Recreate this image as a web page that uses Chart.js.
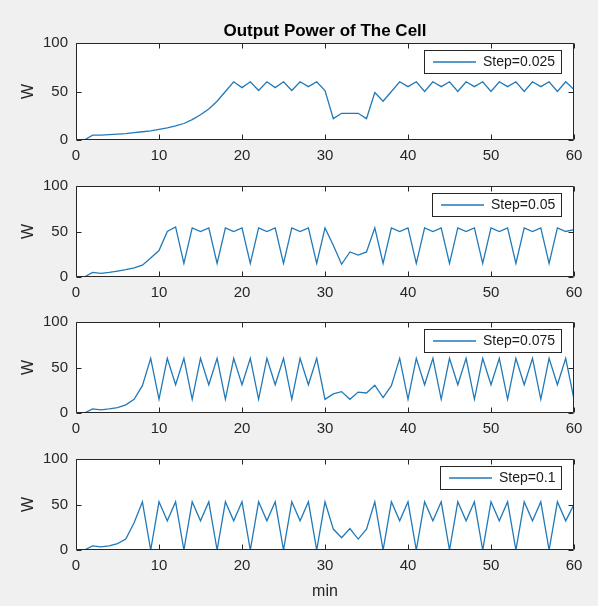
<!DOCTYPE html>
<html>
<head>
<meta charset="utf-8">
<title>Output Power of The Cell</title>
<script src="https://cdn.jsdelivr.net/npm/chart.js@4.4.0/dist/chart.umd.min.js"></script>
<style>
  html, body { margin: 0; padding: 0; background: #f0f0f0; }
  body { width: 598px; height: 606px; position: relative; overflow: hidden; }
  canvas { position: absolute; left: 0; }
</style>
</head>
<body>
<canvas id="c1" width="598" height="170" style="top:0px"></canvas>
<canvas id="c2" width="598" height="138" style="top:169px"></canvas>
<canvas id="c3" width="598" height="138" style="top:305px"></canvas>
<canvas id="c4" width="598" height="164" style="top:442px"></canvas>
<script>
// time axis (min)
const minutes = [1, 2, 3, 4, 5, 6, 7, 8, 9, 10, 11, 12, 13, 14, 15, 16, 17, 18, 19, 20,
  21, 22, 23, 24, 25, 26, 27, 28, 29, 30, 31, 32, 33, 34, 35, 36, 37, 38, 39, 40,
  41, 42, 43, 44, 45, 46, 47, 48, 49, 50, 51, 52, 53, 54, 55, 56, 57, 58, 59, 60];

// output power (W) for each step size
const step025 = [0, 5, 5, 5.5, 6, 6.5, 7.5, 8.5, 9.5, 11, 12.5, 14.5, 17, 21, 26, 32, 40, 50, 60, 54,
  60, 51, 60, 54, 60, 51, 60, 55, 60, 51, 22, 27.5, 27.5, 27.5, 22, 49, 40, 50, 60, 55,
  60, 50, 60, 55, 60, 50, 60, 55, 60, 50, 60, 55, 60, 50, 60, 55, 60, 50, 60, 52];
const step050 = [0, 5, 4, 5, 6.5, 8, 10, 13, 21, 29, 50, 55, 15, 54, 50, 54, 15, 54, 50, 54,
  15, 54, 50, 54, 15, 54, 50, 54, 15, 54, 35, 14, 27.5, 24, 27.5, 54, 15, 54, 50, 54,
  15, 54, 50, 54, 15, 54, 50, 54, 15, 54, 50, 54, 15, 54, 50, 54, 15, 54, 50, 52];
const step075 = [0, 4.5, 3.5, 4.5, 6, 9, 15, 30, 60, 15, 60, 31, 60, 15, 60, 31, 60, 15, 60, 31,
  60, 15, 60, 31, 60, 15, 60, 31, 60, 15, 21, 23.5, 15, 23, 22, 30.5, 17, 30, 60, 15,
  60, 31, 60, 15, 60, 31, 60, 15, 60, 31, 60, 15, 60, 31, 60, 15, 60, 31, 60, 15];
const step100 = [0, 4.5, 3.5, 4.5, 7, 12, 30, 53, 0, 53, 32, 53, 0, 53, 32, 53, 0, 53, 32, 53,
  0, 53, 32, 53, 0, 53, 32, 53, 0, 53, 23, 13.5, 23.5, 12, 23, 53, 0, 53, 32, 53,
  0, 53, 32, 53, 0, 53, 32, 53, 0, 53, 32, 53, 0, 53, 32, 53, 0, 53, 32, 50];

const stepLabels = ['Step=0.025', 'Step=0.05', 'Step=0.075', 'Step=0.1'];
const xTicks = [0, 10, 20, 30, 40, 50, 60];
const yTicks = [0, 50, 100];

const FONT = "'Liberation Sans', Arial, sans-serif";
const lineColor = '#2279b8';
const axisColor = '#262626';

// white plot box, frame and inward tick marks like the original figure
const framePlugin = {
  id: 'frame',
  beforeDraw(chart) {
    const { ctx, chartArea: a } = chart;
    ctx.save();
    ctx.fillStyle = '#ffffff';
    ctx.fillRect(a.left, a.top, a.right - a.left, a.bottom - a.top);
    ctx.restore();
  },
  afterDraw(chart) {
    const { ctx, chartArea: a, scales } = chart;
    const L = Math.round(a.left) + 0.5, R = Math.round(a.right) - 0.5;
    const T = Math.round(a.top) + 0.5, B = Math.round(a.bottom) - 0.5;
    const tl = 5;
    ctx.save();
    ctx.strokeStyle = axisColor;
    ctx.lineWidth = 1;
    ctx.beginPath();
    ctx.rect(L, T, R - L, B - T);
    xTicks.forEach(v => {
      const px = Math.round(scales.x.getPixelForValue(v)) + 0.5;
      ctx.moveTo(px, B); ctx.lineTo(px, B - tl);
      ctx.moveTo(px, T); ctx.lineTo(px, T + tl);
    });
    yTicks.forEach(v => {
      const py = Math.round(scales.y.getPixelForValue(v)) + 0.5;
      ctx.moveTo(L, py); ctx.lineTo(L + tl, py);
      ctx.moveTo(R, py); ctx.lineTo(R - tl, py);
    });
    ctx.stroke();
    ctx.restore();
  }
};

// boxed legend in the upper right corner of the plot
const legendBox = {
  id: 'legendBox',
  afterDraw(chart) {
    const { ctx, chartArea: a } = chart;
    const ds = chart.data.datasets[0];
    ctx.save();
    ctx.font = '14px ' + FONT;
    const tw = ctx.measureText(ds.label).width;
    const w = 9 + 43 + 7 + tw + 6, h = 23;
    const right = Math.round(a.right) - 13;
    const left = Math.round(right - w);
    const top = Math.round(a.top) + 7;
    ctx.fillStyle = '#ffffff';
    ctx.fillRect(left, top, w, h);
    ctx.strokeStyle = axisColor;
    ctx.lineWidth = 1;
    ctx.strokeRect(left + 0.5, top + 0.5, Math.round(w), h);
    const cy = top + h / 2 + 0.5;
    ctx.strokeStyle = ds.borderColor;
    ctx.lineWidth = 1.3;
    ctx.beginPath();
    ctx.moveTo(left + 9, cy);
    ctx.lineTo(left + 52, cy);
    ctx.stroke();
    ctx.fillStyle = '#1a1a1a';
    ctx.textBaseline = 'middle';
    ctx.textAlign = 'left';
    ctx.fillText(ds.label, left + 59, cy);
    ctx.restore();
  }
};

function makePanel(id, values, label, o) {
  return new Chart(document.getElementById(id), {
    type: 'line',
    data: {
      datasets: [{
        label: label,
        data: minutes.map((m, i) => ({ x: m, y: values[i] })),
        borderColor: lineColor,
        borderWidth: 1.3,
        pointRadius: 0,
        tension: 0,
        fill: false
      }]
    },
    options: {
      responsive: false,
      animation: false,
      layout: { padding: { top: o.padTop, right: 24, left: 0, bottom: 0 } },
      plugins: {
        legend: { display: false },
        tooltip: { enabled: false },
        title: o.title || { display: false }
      },
      scales: {
        x: {
          type: 'linear', min: 0, max: 60,
          grid: { display: false, drawTicks: false },
          border: { display: false },
          ticks: { color: axisColor, font: { size: 15, family: FONT }, padding: 7, maxRotation: 0, autoSkip: false },
          afterBuildTicks: s => { s.ticks = xTicks.map(v => ({ value: v })); },
          afterFit: s => { s.height = o.xHeight; },
          title: o.xTitle || { display: false }
        },
        y: {
          min: 0, max: 100,
          grid: { display: false, drawTicks: false },
          border: { display: false },
          ticks: { color: axisColor, font: { size: 15, family: FONT }, padding: 8 },
          afterBuildTicks: s => { s.ticks = yTicks.map(v => ({ value: v })); },
          afterFit: s => { s.width = 76; },
          title: { display: true, text: 'W', color: axisColor, font: { size: 16, family: FONT, lineHeight: 1.2 }, padding: { top: 19, bottom: 0 } }
        }
      }
    },
    plugins: [framePlugin, legendBox]
  });
}

makePanel('c1', step025, stepLabels[0], {
  padTop: 0, xHeight: 30,
  title: {
    display: true, fullSize: false, text: 'Output Power of The Cell', color: '#000000',
    font: { size: 17, weight: 'bold', family: FONT, lineHeight: 1.2 },
    padding: { top: 21, bottom: 1.6 }
  }
});
makePanel('c2', step050, stepLabels[1], { padTop: 12, xHeight: 30 });
makePanel('c3', step075, stepLabels[2], { padTop: 12, xHeight: 30 });
makePanel('c4', step100, stepLabels[3], {
  padTop: 12, xHeight: 56,
  xTitle: { display: true, text: 'min', color: axisColor, font: { size: 16, family: FONT, lineHeight: 1.2 }, padding: { top: 0, bottom: 5 } }
});
</script>
</body>
</html>
